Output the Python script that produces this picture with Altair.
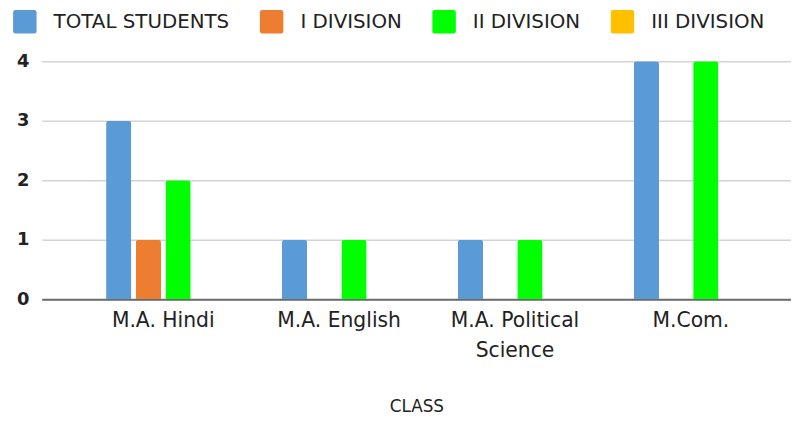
import altair as alt
import pandas as pd

classes = ["M.A. Hindi", "M.A. English", "M.A. Political Science", "M.Com."]
series = ["TOTAL STUDENTS", "I DIVISION", "II DIVISION", "III DIVISION"]
colors = ["#5B9BD5", "#ED7D31", "#00FF00", "#FFC000"]
total_students = [3, 1, 1, 4]
i_division = [1, 0, 0, 0]
ii_division = [2, 1, 1, 4]
iii_division = [0, 0, 0, 0]

rows = []
for s, vals in zip(series, [total_students, i_division, ii_division, iii_division]):
    for c, v in zip(classes, vals):
        rows.append({"CLASS": c, "Series": s, "Value": v})
df = pd.DataFrame(rows)

font = "DejaVu Sans"
rounded = "M-0.8,-1 H0.8 Q1,-1 1,-0.8 V0.8 Q1,1 0.8,1 H-0.8 Q-1,1 -1,0.8 V-0.8 Q-1,-1 -0.8,-1 Z"

chart = alt.Chart(df).mark_bar(
    cornerRadiusTopLeft=3, cornerRadiusTopRight=3
).encode(
    x=alt.X("CLASS:N", sort=classes,
            scale=alt.Scale(paddingInner=0.35, paddingOuter=0.305, align=0.6),
            axis=alt.Axis(title="CLASS", labelAngle=0, ticks=False,
                          domainColor="#6b6b6b", domainWidth=2,
                          labelFont=font, labelFontSize=20.5, labelColor="#222222",
                          labelPadding=12, labelLineHeight=30,
                          labelExpr="datum.label == 'M.A. Political Science' ? ['M.A. Political', 'Science'] : datum.label",
                          titleFont=font, titleFontSize=17, titleFontWeight="normal",
                          titleColor="#222222", titlePadding=38)),
    xOffset=alt.XOffset("Series:N", sort=series, scale=alt.Scale(paddingInner=0.15)),
    y=alt.Y("Value:Q", scale=alt.Scale(domain=[0, 4]),
            axis=alt.Axis(title=None, values=[0, 1, 2, 3, 4], format="d",
                          domain=False, ticks=False,
                          gridColor="#d4d4d4", gridWidth=1.5,
                          labelFont=font, labelFontSize=18, labelFontWeight="bold",
                          labelColor="#222222", labelPadding=13)),
    color=alt.Color("Series:N", sort=series,
                    scale=alt.Scale(domain=series, range=colors),
                    legend=alt.Legend(title=None, orient="none", direction="horizontal",
                                      columns=4, legendX=-29, legendY=-52,
                                      symbolType=rounded,
                                      symbolSize=560, symbolStrokeWidth=0,
                                      labelFont=font, labelFontSize=20, labelColor="#222222",
                                      labelOffset=17, columnPadding=30, padding=0,
                                      labelLimit=300)),
).properties(
    width=756, height=240,
    autosize=alt.AutoSizeParams(type="none"),
    padding={"left": 34, "top": 52, "right": 0, "bottom": 117},
).configure_view(stroke=None)

chart.save("out.html", embed_options={"renderer": "svg", "actions": False})
